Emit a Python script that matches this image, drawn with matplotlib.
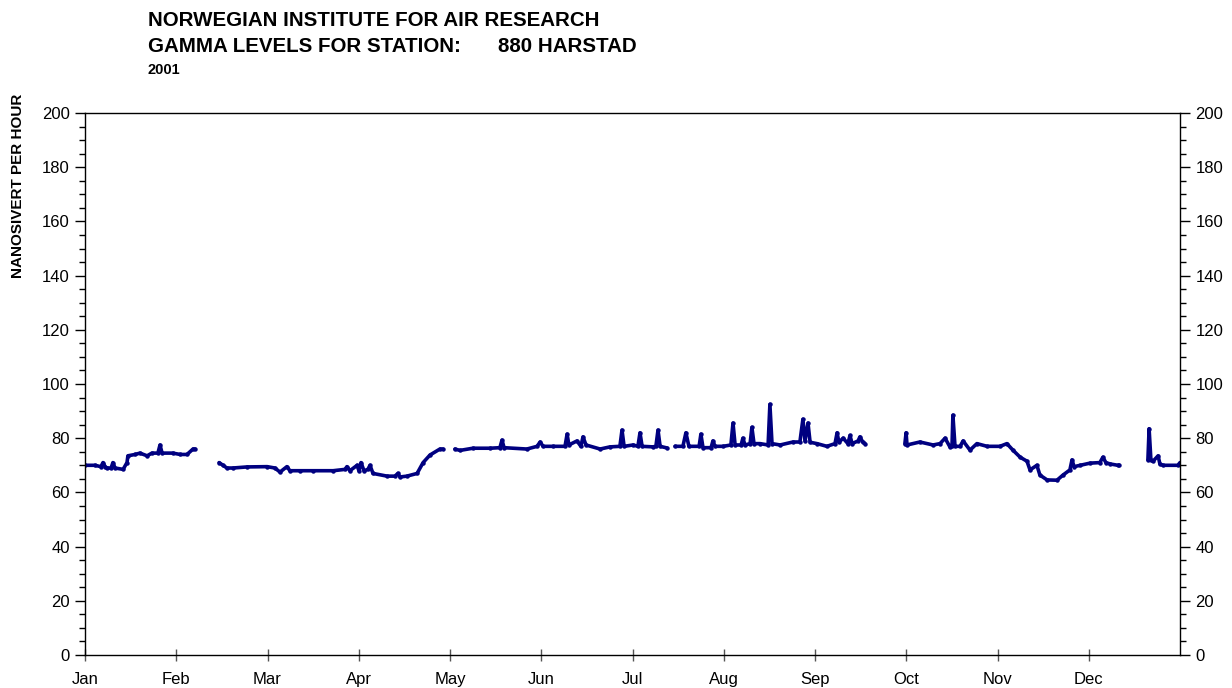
import numpy as np
import matplotlib
matplotlib.use("Agg")
import matplotlib.pyplot as plt
from matplotlib.ticker import MultipleLocator

plt.rcParams['font.family'] = ['Liberation Sans', 'DejaVu Sans']

# day of year (0-365) and dose rate in nSv/h, NaN marks gaps in the record
dias = [
    0, 3.3, 5.3, 6, 6.7, 7.3, 8.7, 9.3, 10, 12.7, 14, 14.3, 16.7, 18.3, 20.7, 22.3, 24.3, 25, 25.7,
    29.3, 31.7, 34, 36, 36.7, 40,
    44.7, 46, 47.3, 49.3, 54, 60.7, 63.3, 65, 67.3, 68.3, 71.7, 76, 82.7, 86.7, 87.3, 88.3, 90.7,
    91.3, 92, 93, 94.3, 95, 96, 100.7, 103.3, 104.3, 105, 107.3, 110.7, 112.7, 115, 118.3, 119.3, 121,
    123.3, 125, 129.3, 135, 138.3, 139, 139.7, 147.3, 150.7, 151.7, 152.7, 156, 160, 160.7, 161.3,
    164, 165.3, 166, 167, 171.7, 175, 178.3, 179, 179.7, 182.7, 184.3, 185, 185.7, 189.3, 190.3,
    191, 191.7, 194, 195,
    196.7, 199.3, 200.3, 201.3, 204.7, 205.3, 206, 208.7, 209.3, 210, 212.7, 215.3, 216, 216.7,
    218.7, 219.3, 220, 221.7, 222.3, 223, 225, 227.7, 228.3, 229, 231.7, 236, 238.3, 239.3, 240,
    241, 241.7, 244, 247.3, 250, 250.7, 251.3, 252.7, 254.3, 255, 255.7, 257.7, 258.3, 259.3, 260, 265,
    273.3, 273.7, 274, 278.3, 282.7, 285, 286.7, 288.3, 289, 289.3, 290, 291.7, 292.7, 295, 297.3,
    300.7, 305, 307.3, 309.3, 311.7, 314, 315, 317.3, 318.3, 320.7, 324, 326, 328.3, 329, 329.7,
    331.7, 335, 338.3, 339.3, 340.3, 341.7, 344.3, 344.7, 350,
    354.3, 354.7, 355.3, 356, 357.7, 358.3, 359.3, 364.3, 365,
]
gamma = [
    70, 70, 69.5, 71, 69.5, 69, 69, 71, 69, 68.5, 71, 73.5, 74, 74.5, 73.5, 74.5, 74.5, 77.5, 74.5,
    74.5, 74, 74, 76, 76, np.nan,
    71, 70, 69, 69, 69.4, 69.5, 69, 67.5, 69.5, 68, 68, 68, 68, 68.5, 69.5, 68, 70,
    68, 71, 68, 68.5, 70, 67, 66, 66, 67, 65.7, 66, 67, 71, 73.8, 76, 76, np.nan,
    76, 75.5, 76.3, 76.3, 76.5, 79.3, 76.5, 76, 77, 78.6, 77, 77, 77, 81.5, 77.5,
    79, 77, 80.5, 77.5, 76, 76.8, 77, 83, 77, 77.5, 77, 82, 77, 76.8, 77,
    83, 77, 76.4, np.nan,
    77, 77, 82, 77, 77, 81.5, 76.5, 76.5, 79, 77, 77, 77.5, 85.6, 77.5,
    77.5, 80, 77.5, 78, 84, 78, 78, 77.5, 92.5, 78, 77.5, 78.6, 78.6, 87, 79,
    85.6, 78.5, 78, 77, 78, 82, 78.5, 80, 78, 81, 78, 79, 80.5, 78.5, 78, np.nan,
    78, 82, 77.5, 78.6, 77.5, 78, 80, 76.8, 77, 88.5, 77, 77, 79, 75.6, 78,
    77, 77, 78, 75.6, 73, 71.5, 68.3, 70, 66.4, 64.6, 64.5, 66.4, 68.3, 72, 69.5,
    70, 70.8, 71, 73, 71, 70.5, 70, 70, np.nan,
    72, 83.5, 72, 71.5, 73.5, 70.5, 70, 70, 71,
]
meses = ['Jan', 'Feb', 'Mar', 'Apr', 'May', 'Jun', 'Jul', 'Aug', 'Sep', 'Oct', 'Nov', 'Dec']

fig = plt.figure(figsize=(12.32, 6.88), dpi=100)
ax = fig.add_axes([85 / 1232, 33 / 688, 1095 / 1232, 542 / 688])

ax.plot(dias, gamma, color='#000080', linewidth=2.6, marker='o', markersize=2.2,
        solid_capstyle='round')

ax.set_xlim(0, 365)
ax.set_ylim(0, 200)
ax.set_xticks([i * 365 / 12 for i in range(12)])
ax.set_xticklabels(meses)
ax.yaxis.set_major_locator(MultipleLocator(20))
ax.yaxis.set_minor_locator(MultipleLocator(5))
ax.tick_params(axis='x', direction='inout', length=8, width=1, labelsize=12, pad=8,
               color='#555555')
ax.tick_params(axis='y', which='major', direction='out', length=7, width=1, labelsize=12,
               left=True, right=True, labelleft=True, labelright=True, pad=4)
ax.tick_params(axis='y', which='minor', direction='out', length=4, width=1,
               left=True, right=True)
for s in ax.spines.values():
    s.set_linewidth(1)

fig.text(148 / 1232, 1 - 20 / 688, 'NORWEGIAN INSTITUTE FOR AIR RESEARCH',
         fontsize=14.8, fontweight='bold', va='center', ha='left')
fig.text(148 / 1232, 1 - 46 / 688, 'GAMMA LEVELS FOR STATION:',
         fontsize=14.8, fontweight='bold', va='center', ha='left')
fig.text(498 / 1232, 1 - 46 / 688, '880 HARSTAD',
         fontsize=14.8, fontweight='bold', va='center', ha='left')
fig.text(148 / 1232, 1 - 70 / 688, '2001',
         fontsize=10.5, fontweight='bold', va='center', ha='left')
fig.text(18 / 1232, 1 - 186 / 688, 'NANOSIVERT PER HOUR', rotation=90,
         fontsize=11, fontweight='bold', va='center', ha='center')

fig.savefig('out.png', dpi=100)
